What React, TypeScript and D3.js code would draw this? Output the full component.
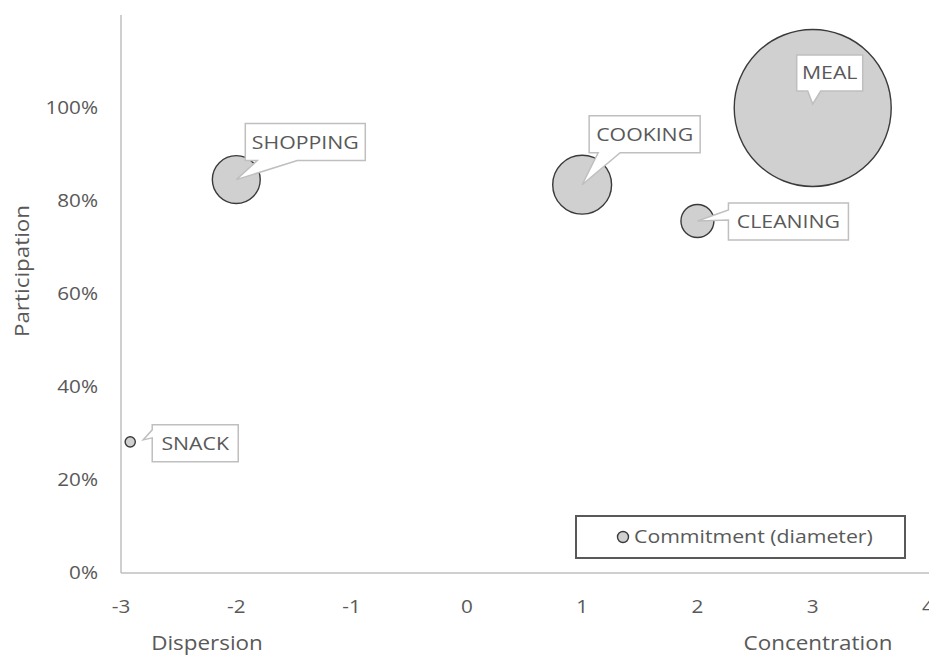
import * as d3 from 'd3';
import React, { useEffect, useRef } from 'react';

const categories = ['SNACK', 'SHOPPING', 'COOKING', 'CLEANING', 'MEAL'];
const dispersion = [-2.92, -2.0, 1.0, 2.0, 3.0];
const participation = [0.282, 0.846, 0.835, 0.757, 1.0];
const commitment = [6.5, 30.5, 37.5, 21, 100];

const xTicks = [-3, -2, -1, 0, 1, 2, 3, 4];
const yTicks = [0, 0.2, 0.4, 0.6, 0.8, 1.0];

// callout layout: box offset from bubble centre, size, wedge side and base
const callouts: Record<string, any> = {
  SNACK: { dx: 22, dy: -17, w: 86, h: 37, side: 'left', b1: 5, b2: 13, tx: 13, ty: -2 },
  SHOPPING: { dx: 9, dy: -56, w: 120, h: 37, side: 'bottom', b1: 12, b2: 52, tx: 0, ty: 0 },
  COOKING: { dx: 7, dy: -69, w: 111, h: 37, side: 'bottom', b1: 9, b2: 31, tx: 0, ty: 0 },
  CLEANING: { dx: 31, dy: -18, w: 120, h: 37, side: 'left', b1: 7, b2: 17, tx: 0, ty: 0 },
  MEAL: { dx: -16, dy: -53, w: 66, h: 36, side: 'bottom', b1: 11, b2: 24, tx: 0, ty: -4 },
};

const W = 929;
const H = 657;
const FONT = '"Open Sans", sans-serif';
const TEXT = '#595959';
const STRETCH = 1.15;

const BubbleChart: React.FC = () => {
  const svgRef = useRef<SVGSVGElement>(null);

  useEffect(() => {
    if (!svgRef.current) return;
    const svg = d3.select(svgRef.current);
    svg.selectAll('*').remove();

    const x = d3.scaleLinear().domain([-3, 4]).range([121, 928]);
    const y = d3.scaleLinear().domain([0, 1.2]).range([573, 15]);
    const diam = d3.scaleLinear().domain([0, 100]).range([0, 157]);

    // text helper, the reference font is a bit wider than Open Sans
    const label = (g: any, tx: number, ty: number, s: string, size: number, anchor: string, rot = 0) =>
      g.append('text')
        .attr('transform', `translate(${tx},${ty}) rotate(${rot}) scale(${STRETCH},1)`)
        .attr('dy', '0.35em')
        .attr('text-anchor', anchor)
        .attr('font-family', FONT)
        .attr('font-size', size)
        .attr('fill', TEXT)
        .text(s);

    // axes
    svg.append('line')
      .attr('x1', x(-3)).attr('x2', x(-3))
      .attr('y1', y(1.2)).attr('y2', y(0))
      .attr('stroke', '#bfbfbf').attr('stroke-width', 1.5);
    svg.append('line')
      .attr('x1', x(-3)).attr('x2', W)
      .attr('y1', y(0)).attr('y2', y(0))
      .attr('stroke', '#bfbfbf').attr('stroke-width', 1.5);

    const yg = svg.append('g');
    yTicks.forEach(d => label(yg, 98, y(d), d3.format('.0%')(d), 18, 'end'));
    const xg = svg.append('g');
    xTicks.forEach(d => label(xg, x(d), 607, String(d), 18, 'middle'));

    // axis titles
    label(svg, 22, 271, 'Participation', 19.5, 'middle', -90);
    label(svg, 207, 643, 'Dispersion', 19.5, 'middle');
    label(svg, 818, 643, 'Concentration', 19.5, 'middle');

    const data = categories.map((c, i) => ({
      name: c, dx: dispersion[i], p: participation[i], size: commitment[i],
    }));

    svg.append('g').selectAll('circle')
      .data(data)
      .join('circle')
      .attr('cx', d => x(d.dx))
      .attr('cy', d => y(d.p))
      .attr('r', d => diam(d.size) / 2)
      .attr('fill', '#d0d0d0')
      .attr('stroke', '#3a3a3a')
      .attr('stroke-width', 1.4);

    // callout labels
    const labels = svg.append('g');
    data.forEach(d => {
      const c = callouts[d.name];
      const cx = x(d.dx);
      const cy = y(d.p);
      const bx = cx + c.dx;
      const by = cy + c.dy;
      const tx = cx + c.tx;
      const ty = cy + c.ty;
      const p = d3.path();
      p.moveTo(bx, by);
      p.lineTo(bx + c.w, by);
      p.lineTo(bx + c.w, by + c.h);
      if (c.side === 'bottom') {
        p.lineTo(bx + c.b2, by + c.h);
        p.lineTo(tx, ty);
        p.lineTo(bx + c.b1, by + c.h);
        p.lineTo(bx, by + c.h);
      } else {
        p.lineTo(bx, by + c.h);
        p.lineTo(bx, by + c.b2);
        p.lineTo(tx, ty);
        p.lineTo(bx, by + c.b1);
      }
      p.closePath();
      labels.append('path')
        .attr('d', p.toString())
        .attr('fill', '#ffffff')
        .attr('stroke', '#bfbfbf')
        .attr('stroke-width', 1.5);
      label(labels, bx + c.w / 2, by + c.h / 2, d.name, 18.5, 'middle');
    });

    // legend
    const lg = svg.append('g');
    lg.append('rect')
      .attr('x', 576).attr('y', 516).attr('width', 329).attr('height', 42)
      .attr('fill', '#ffffff').attr('stroke', '#595959').attr('stroke-width', 2);
    lg.append('circle')
      .attr('cx', 623).attr('cy', 537).attr('r', 5.5)
      .attr('fill', '#d0d0d0').attr('stroke', '#3a3a3a').attr('stroke-width', 1.4);
    label(lg, 634, 537, 'Commitment (diameter)', 18.5, 'start');
  }, []);

  return (
    <svg
      ref={svgRef}
      width={W}
      height={H}
      style={{ position: 'absolute', left: 0, top: 0, background: '#ffffff' }}
    />
  );
};

export default function App() {
  return <BubbleChart />;
}
